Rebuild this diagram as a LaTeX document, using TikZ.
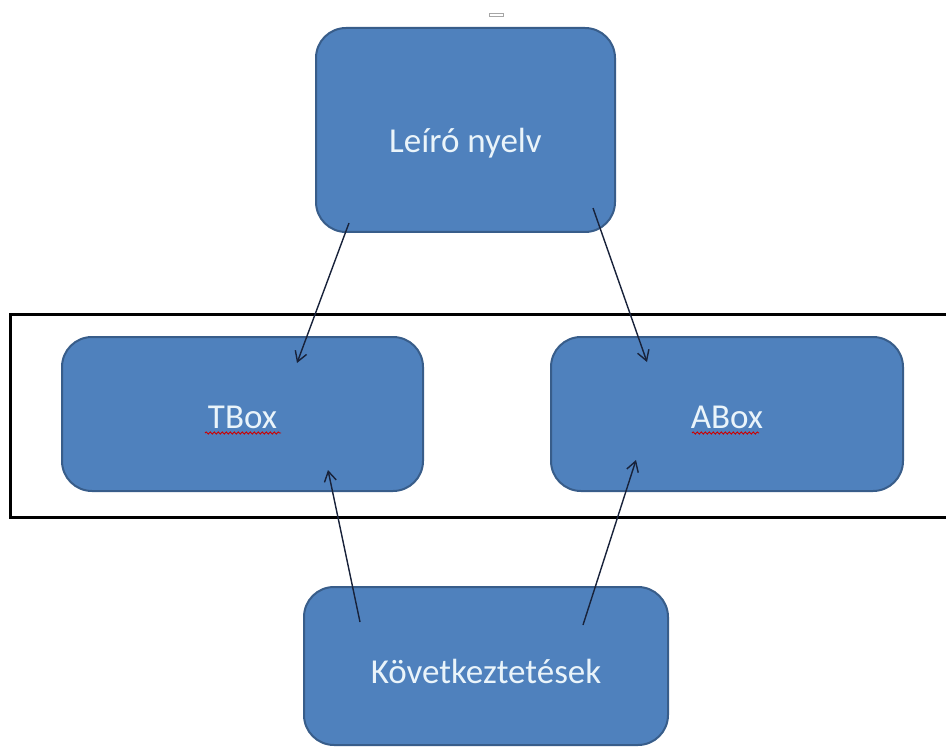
\documentclass[tikz,border=0pt]{standalone}
\usepackage{fontspec}
\setmainfont{Carlito}
\usetikzlibrary{arrows.meta,decorations.pathmorphing}

\definecolor{boxfill}{HTML}{4F81BD}
\definecolor{boxline}{HTML}{385D8A}
\definecolor{boxtext}{HTML}{EAF4FA}
\definecolor{linkcol}{HTML}{18223A}

\tikzset{
  block/.style={rectangle, rounded corners=30pt, fill=boxfill, draw=boxline,
    line width=2pt, text=boxtext, font=\fontsize{35}{40}\selectfont,
    inner sep=0pt, text depth=0pt},
  link/.style={draw=linkcol, line width=1.4pt,
    -{Straight Barb[length=10pt,width=12pt,line width=1.4pt]}},
  frame/.style={draw=black, line width=3pt},
  spell/.style={draw=red!80!black, line width=0.9pt,
    decorate, decoration={snake, segment length=4pt, amplitude=1.1pt}}
}

\begin{document}
\begin{tikzpicture}[x=1pt, y=-1pt]
  \useasboundingbox[fill=white] (0,0) rectangle (946,749);

  % small handle mark above the top box
  \draw[gray!70, line width=1pt] (489,14) rectangle (503,17);

  % frame grouping the two knowledge boxes
  \draw[frame] (10,314) rectangle (950,517);

  % boxes
  \node[block, minimum width=299pt, minimum height=204pt, text height=46pt]
    (lang) at (465.5,130) {Leíró nyelv};
  \node[block, minimum width=361pt, minimum height=154pt, text height=28pt]
    (tbox) at (242.5,414) {TBox};
  \node[block, minimum width=352pt, minimum height=154pt, text height=28pt]
    (abox) at (727,414) {ABox};
  \node[block, minimum width=364pt, minimum height=158pt, text height=34pt]
    (kov) at (486,666) {Következtetések};

  % spell-check underlines
  \draw[spell] (205,433) -- (281,433);
  \draw[spell] (692,433) -- (759,433);

  % connector end points inside the boxes
  \coordinate (lang-l) at (349,223);
  \coordinate (lang-r) at (593,208);
  \coordinate (tbox-in) at (297,363);
  \coordinate (abox-in) at (647,362);
  \coordinate (kov-l) at (360,622);
  \coordinate (kov-r) at (583,625);
  \coordinate (tbox-up) at (328,470);
  \coordinate (abox-up) at (636,460);

  % connectors
  \draw[link] (lang-l) -- (tbox-in);
  \draw[link] (lang-r) -- (abox-in);
  \draw[link] (kov-l) -- (tbox-up);
  \draw[link] (kov-r) -- (abox-up);
\end{tikzpicture}
\end{document}
